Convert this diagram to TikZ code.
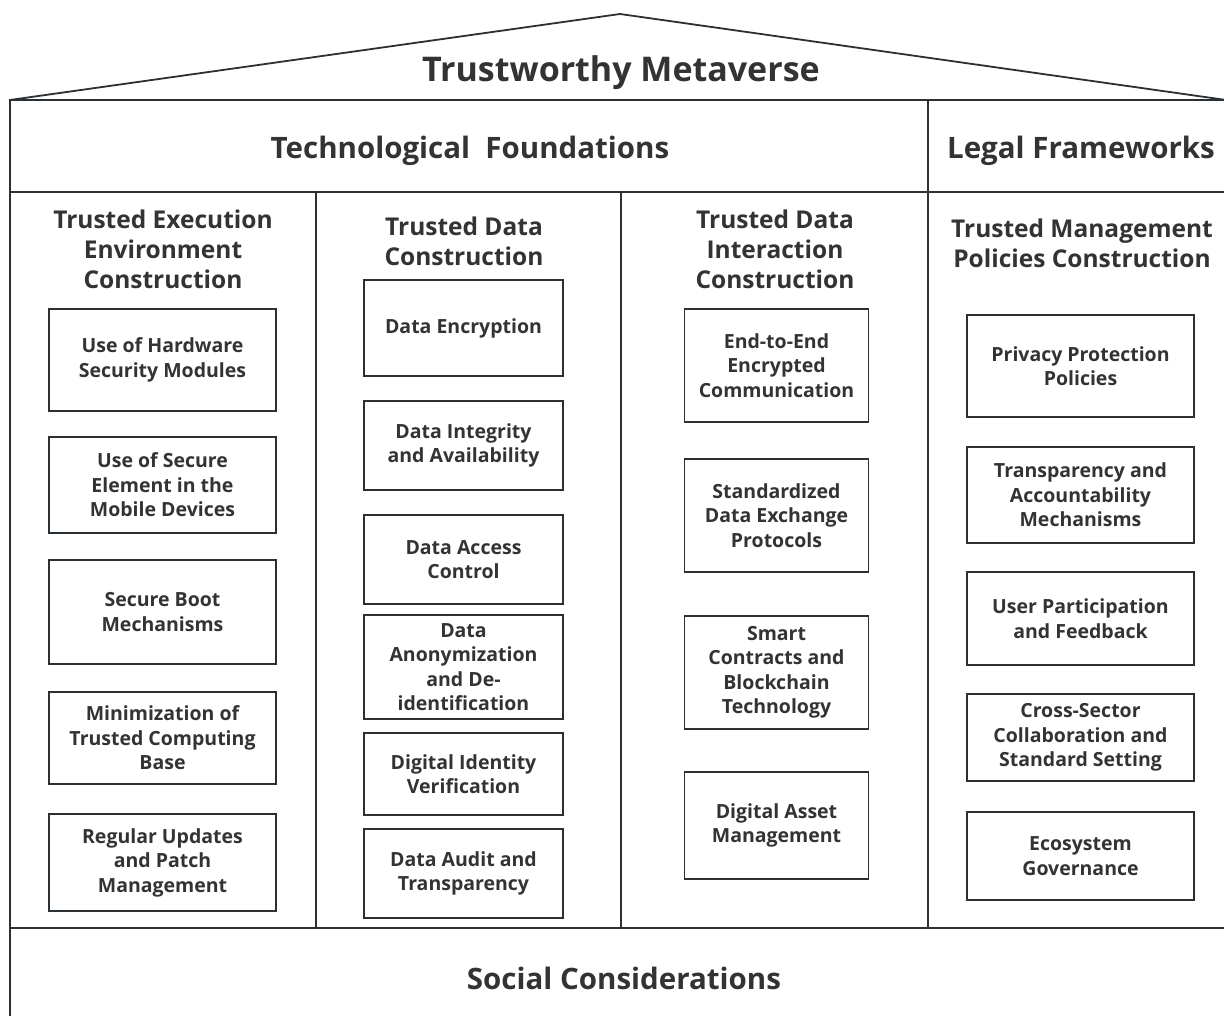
\documentclass[tikz,border=0pt]{standalone}
\usepackage{fontspec}
\setmainfont{Open Sans}
\usepackage{tikz}
\definecolor{inkdark}{HTML}{2B3035}
\definecolor{txtdark}{HTML}{333333}

\begin{document}
\begin{tikzpicture}
  [
    x=1pt, y=-1pt,
    frame line/.style={draw=inkdark, line width=2.6pt},
    roof line/.style={draw=inkdark, line width=1.8pt, line join=round},
    item box/.style={draw=inkdark, line width=1.8pt, align=center, inner sep=0pt,
      text=txtdark, font=\fontsize{19.5}{24.5}\selectfont\bfseries},
    pillar title/.style={align=center, text=txtdark, font=\fontsize{24.5}{30}\selectfont\bfseries},
    band title/.style={text=txtdark, font=\fontsize{29.5}{34}\selectfont\bfseries}
  ]
  \useasboundingbox (0,0) rectangle (1224,1016);
  \clip (0,0) rectangle (1224,1016);

  % roof and frame
  \draw[roof line] (10,100) -- (620,14) -- (1226,100);
  \draw[frame line] (10,1020) -- (10,100) -- (1230,100);
  \draw[frame line] (10,192) -- (1230,192);
  \draw[frame line] (10,928) -- (1230,928);
  \draw[frame line] (316,192) -- (316,928);
  \draw[frame line] (621,192) -- (621,928);
  \draw[frame line] (928,100) -- (928,928);

  \node[band title, font=\fontsize{34}{38}\selectfont\bfseries] (roof) at (621,73) {Trustworthy Metaverse};
  \node[band title] (techf) at (470,151) {Technological\ \ Foundations};
  \node[band title] (legalf) at (1081,151) {Legal Frameworks};
  \node[band title] (social) at (624,978) {Social Considerations};

  \node[pillar title] (tee) at (163,249) {Trusted Execution\\Environment\\Construction};
  \node[pillar title] (tdc) at (464,241) {Trusted Data\\Construction};
  \node[pillar title] (tdi) at (775,249) {Trusted Data\\Interaction\\Construction};
  \node[pillar title] (tmp) at (1082,243) {Trusted Management\\Policies Construction};

  % trusted execution environment
  \foreach \cy/\h/\txt [count=\i] in {
      360/102/{Use of Hardware\\Security Modules},
      485/96/{Use of Secure\\Element in the\\Mobile Devices},
      612/104/{Secure Boot\\Mechanisms},
      738/92/{Minimization of\\Trusted Computing\\Base},
      862.5/97/{Regular Updates\\and Patch\\Management}}
    \node[item box, minimum width=227, minimum height=\h] (tee\i) at (162.5,\cy) {\txt};

  % trusted data
  \foreach \cy/\h/\txt [count=\i] in {
      328/96/{Data Encryption},
      445.5/89/{Data Integrity\\and Availability},
      559.5/89/{Data Access\\Control},
      667/104/{Data\\Anonymization\\and De-\\identification},
      774/82/{Digital Identity\\Verification},
      873.5/89/{Data Audit and\\Transparency}}
    \node[item box, minimum width=199, minimum height=\h] (tdc\i) at (463.5,\cy) {\txt};

  % trusted data interaction
  \foreach \cy/\h/\txt [count=\i] in {
      365.5/113/{End-to-End\\Encrypted\\Communication},
      515.5/113/{Standardized\\Data Exchange\\Protocols},
      672.5/113/{Smart\\Contracts and\\Blockchain\\Technology},
      825.5/107/{Digital Asset\\Management}}
    \node[item box, minimum width=184, minimum height=\h] (tdi\i) at (776.5,\cy) {\txt};

  % trusted management policies
  \foreach \cy/\h/\txt [count=\i] in {
      366/102/{Privacy Protection\\Policies},
      495/96/{Transparency and\\Accountability\\Mechanisms},
      618.5/93/{User Participation\\and Feedback},
      737.5/87/{Cross-Sector\\Collaboration and\\Standard Setting},
      856/88/{Ecosystem\\Governance}}
    \node[item box, minimum width=227, minimum height=\h] (tmp\i) at (1080.5,\cy) {\txt};
\end{tikzpicture}
\end{document}
